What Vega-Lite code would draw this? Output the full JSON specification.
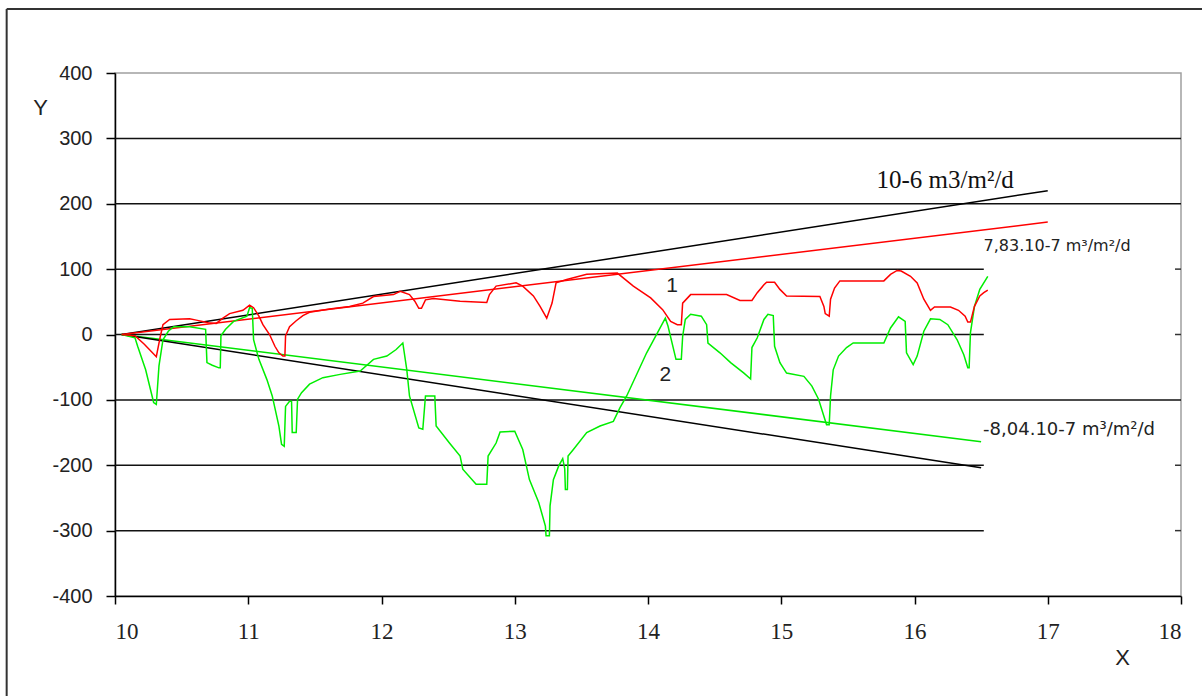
{
  "$schema": "https://vega.github.io/schema/vega-lite/v6.json",
  "width": 1066,
  "height": 523,
  "autosize": {"type": "none"},
  "padding": {"left": 115, "top": 73, "right": 21, "bottom": 100},
  "background": "white",
  "config": {
    "view": {"stroke": "#a0a0a0", "strokeWidth": 1.5},
    "axis": {"grid": false, "domainColor": "#000", "domainWidth": 1.5, "tickColor": "#000", "tickWidth": 1.5, "labelColor": "#222", "titleColor": "#222", "titleFontWeight": "normal"}
  },
  "datasets": {
    "red": [
      {"x":10.05,"y":0},{"x":10.15,"y":-2},{"x":10.22,"y":-15},{"x":10.31,"y":-34},{"x":10.34,"y":-3},{"x":10.36,"y":15},{"x":10.41,"y":23},{"x":10.56,"y":24},{"x":10.61,"y":22},{"x":10.7,"y":18},{"x":10.76,"y":17},{"x":10.81,"y":25},{"x":10.86,"y":32},{"x":10.96,"y":37},{"x":11.01,"y":45},{"x":11.04,"y":41},{"x":11.08,"y":28},{"x":11.11,"y":15},{"x":11.16,"y":0},{"x":11.2,"y":-18},{"x":11.23,"y":-28},{"x":11.26,"y":-33},{"x":11.275,"y":-33},{"x":11.28,"y":-2},{"x":11.31,"y":12},{"x":11.36,"y":21},{"x":11.41,"y":29},{"x":11.46,"y":34},{"x":11.61,"y":39},{"x":11.76,"y":43},{"x":11.86,"y":48},{"x":11.94,"y":58},{"x":12.09,"y":61},{"x":12.14,"y":66},{"x":12.21,"y":61},{"x":12.25,"y":51},{"x":12.28,"y":40},{"x":12.3,"y":40},{"x":12.33,"y":53},{"x":12.39,"y":55},{"x":12.59,"y":51},{"x":12.79,"y":49},{"x":12.81,"y":61},{"x":12.86,"y":74},{"x":13.01,"y":79},{"x":13.06,"y":74},{"x":13.14,"y":59},{"x":13.19,"y":43},{"x":13.24,"y":25},{"x":13.28,"y":48},{"x":13.31,"y":79},{"x":13.39,"y":84},{"x":13.54,"y":92},{"x":13.77,"y":94},{"x":13.89,"y":74},{"x":14.02,"y":56},{"x":14.11,"y":38},{"x":14.17,"y":20},{"x":14.22,"y":15},{"x":14.25,"y":15},{"x":14.26,"y":48},{"x":14.32,"y":61},{"x":14.59,"y":61},{"x":14.69,"y":52},{"x":14.78,"y":52},{"x":14.82,"y":64},{"x":14.87,"y":76},{"x":14.89,"y":80},{"x":14.95,"y":80},{"x":14.99,"y":69},{"x":15.04,"y":59},{"x":15.29,"y":58},{"x":15.32,"y":43},{"x":15.33,"y":32},{"x":15.36,"y":28},{"x":15.37,"y":54},{"x":15.4,"y":71},{"x":15.44,"y":82},{"x":15.77,"y":82},{"x":15.82,"y":92},{"x":15.87,"y":98},{"x":15.9,"y":97},{"x":15.97,"y":89},{"x":16.02,"y":79},{"x":16.07,"y":54},{"x":16.12,"y":37},{"x":16.15,"y":42},{"x":16.27,"y":42},{"x":16.33,"y":37},{"x":16.38,"y":28},{"x":16.4,"y":19},{"x":16.42,"y":19},{"x":16.45,"y":43},{"x":16.49,"y":59},{"x":16.52,"y":64},{"x":16.55,"y":68}
    ],
    "green": [
      {"x":10.05,"y":0},{"x":10.15,"y":-5},{"x":10.17,"y":-18},{"x":10.23,"y":-54},{"x":10.29,"y":-104},{"x":10.31,"y":-107},{"x":10.33,"y":-48},{"x":10.36,"y":-8},{"x":10.4,"y":5},{"x":10.44,"y":12},{"x":10.56,"y":12},{"x":10.68,"y":8},{"x":10.69,"y":-43},{"x":10.73,"y":-47},{"x":10.78,"y":-51},{"x":10.79,"y":-51},{"x":10.795,"y":-2},{"x":10.83,"y":8},{"x":10.89,"y":20},{"x":10.99,"y":28},{"x":11.01,"y":41},{"x":11.03,"y":40},{"x":11.04,"y":-8},{"x":11.08,"y":-38},{"x":11.14,"y":-69},{"x":11.18,"y":-94},{"x":11.23,"y":-140},{"x":11.25,"y":-168},{"x":11.27,"y":-171},{"x":11.28,"y":-110},{"x":11.31,"y":-102},{"x":11.325,"y":-102},{"x":11.33,"y":-150},{"x":11.36,"y":-150},{"x":11.37,"y":-99},{"x":11.4,"y":-89},{"x":11.46,"y":-76},{"x":11.56,"y":-66},{"x":11.69,"y":-61},{"x":11.84,"y":-56},{"x":11.94,"y":-38},{"x":12.04,"y":-33},{"x":12.11,"y":-23},{"x":12.16,"y":-13},{"x":12.19,"y":-54},{"x":12.21,"y":-94},{"x":12.28,"y":-143},{"x":12.31,"y":-145},{"x":12.33,"y":-94},{"x":12.4,"y":-94},{"x":12.41,"y":-140},{"x":12.51,"y":-166},{"x":12.59,"y":-186},{"x":12.61,"y":-206},{"x":12.71,"y":-229},{"x":12.79,"y":-229},{"x":12.8,"y":-186},{"x":12.86,"y":-166},{"x":12.89,"y":-149},{"x":13.0,"y":-148},{"x":13.06,"y":-176},{"x":13.11,"y":-222},{"x":13.18,"y":-257},{"x":13.23,"y":-293},{"x":13.235,"y":-308},{"x":13.26,"y":-308},{"x":13.265,"y":-262},{"x":13.29,"y":-222},{"x":13.33,"y":-201},{"x":13.36,"y":-190},{"x":13.375,"y":-205},{"x":13.38,"y":-237},{"x":13.395,"y":-237},{"x":13.4,"y":-186},{"x":13.44,"y":-176},{"x":13.54,"y":-150},{"x":13.64,"y":-140},{"x":13.74,"y":-133},{"x":13.79,"y":-112},{"x":13.84,"y":-94},{"x":13.99,"y":-28},{"x":14.13,"y":25},{"x":14.15,"y":13},{"x":14.21,"y":-38},{"x":14.25,"y":-38},{"x":14.26,"y":-3},{"x":14.28,"y":23},{"x":14.32,"y":31},{"x":14.4,"y":28},{"x":14.44,"y":15},{"x":14.45,"y":-13},{"x":14.54,"y":-28},{"x":14.62,"y":-43},{"x":14.72,"y":-59},{"x":14.77,"y":-68},{"x":14.78,"y":-20},{"x":14.82,"y":-5},{"x":14.87,"y":23},{"x":14.9,"y":31},{"x":14.94,"y":29},{"x":14.95,"y":-18},{"x":14.99,"y":-43},{"x":15.04,"y":-59},{"x":15.17,"y":-64},{"x":15.23,"y":-79},{"x":15.28,"y":-99},{"x":15.32,"y":-125},{"x":15.34,"y":-138},{"x":15.36,"y":-138},{"x":15.37,"y":-94},{"x":15.39,"y":-54},{"x":15.43,"y":-33},{"x":15.49,"y":-20},{"x":15.54,"y":-13},{"x":15.77,"y":-13},{"x":15.82,"y":10},{"x":15.88,"y":27},{"x":15.93,"y":20},{"x":15.94,"y":-28},{"x":15.99,"y":-46},{"x":16.02,"y":-33},{"x":16.07,"y":5},{"x":16.12,"y":24},{"x":16.19,"y":23},{"x":16.25,"y":15},{"x":16.32,"y":-8},{"x":16.37,"y":-31},{"x":16.4,"y":-51},{"x":16.41,"y":-51},{"x":16.42,"y":3},{"x":16.45,"y":43},{"x":16.49,"y":69},{"x":16.55,"y":89}
    ],
    "trends": [
      {"series":"up","x":10.05,"y":0},{"series":"up","x":17,"y":220},
      {"series":"red","x":10.05,"y":0},{"series":"red","x":17,"y":172},
      {"series":"green","x":10.05,"y":0},{"series":"green","x":16.5,"y":-164},
      {"series":"down","x":10.05,"y":0},{"series":"down","x":16.5,"y":-204}
    ],
    "gridFull": [{"y":300},{"y":200},{"y":-100}],
    "gridPart": [{"y":100},{"y":0},{"y":-200},{"y":-300}]
  },
  "layer": [
    {
      "data": {"name": "gridFull"},
      "mark": {"type": "rule", "color": "#111", "strokeWidth": 1.5},
      "encoding": {
        "y": {"field": "y", "type": "quantitative", "scale": {"domain": [-400, 400], "nice": false, "zero": false},
          "axis": {"values": [-400,-300,-200,-100,0,100,200,300,400], "labelExpr": "datum.value + ''", "labelFont": "Liberation Sans", "labelFontSize": 20, "tickSize": 9, "labelPadding": 14, "title": "Y", "titleFont": "Liberation Sans", "titleFontSize": 22, "titleAngle": 0, "titleX": -75, "titleY": 34, "titleAlign": "center", "titleBaseline": "middle"}},
        "x": {"datum": 10, "type": "quantitative", "scale": {"domain": [10, 18], "nice": false, "zero": false},
          "axis": {"values": [10,11,12,13,14,15,16,17,18], "labelExpr": "datum.value + ''", "labelFont": "Liberation Serif", "labelFontSize": 23, "tickSize": 8, "labelPadding": 16, "title": "X", "titleFont": "Liberation Sans", "titleFontSize": 22, "titleX": 1007, "titleY": 61, "titleAlign": "center", "titleBaseline": "middle"}},
        "x2": {"datum": 18}
      }
    },
    {
      "data": {"name": "gridPart"},
      "mark": {"type": "rule", "color": "#111", "strokeWidth": 1.5},
      "encoding": {
        "y": {"field": "y", "type": "quantitative", "scale": {"domain": [-400, 400], "nice": false, "zero": false}},
        "x": {"datum": 10, "type": "quantitative", "scale": {"domain": [10, 18], "nice": false, "zero": false}},
        "x2": {"datum": 16.52}
      }
    },
    {
      "data": {"name": "gridPart"},
      "mark": {"type": "rule", "color": "#333", "strokeWidth": 1.5},
      "encoding": {
        "y": {"field": "y", "type": "quantitative", "scale": {"domain": [-400, 400], "nice": false, "zero": false}},
        "x": {"datum": 17.955, "type": "quantitative", "scale": {"domain": [10, 18], "nice": false, "zero": false}},
        "x2": {"datum": 18}
      }
    },
    {
      "data": {"name": "trends"},
      "mark": {"type": "line", "strokeWidth": 1.5},
      "encoding": {
        "x": {"field": "x", "type": "quantitative", "scale": {"domain": [10, 18], "nice": false, "zero": false}},
        "y": {"field": "y", "type": "quantitative", "scale": {"domain": [-400, 400], "nice": false, "zero": false}},
        "color": {"field": "series", "type": "nominal", "scale": {"domain": ["up", "red", "green", "down"], "range": ["#000000", "#ff0000", "#00e600", "#000000"]}, "legend": null},
        "detail": {"field": "series"}
      }
    },
    {
      "data": {"name": "green"},
      "mark": {"type": "line", "color": "#00ee00", "strokeWidth": 1.5},
      "encoding": {
        "x": {"field": "x", "type": "quantitative", "scale": {"domain": [10, 18], "nice": false, "zero": false}},
        "y": {"field": "y", "type": "quantitative", "scale": {"domain": [-400, 400], "nice": false, "zero": false}},
        "order": {"value": null}
      }
    },
    {
      "data": {"name": "red"},
      "mark": {"type": "line", "color": "#ff0000", "strokeWidth": 1.5},
      "encoding": {
        "x": {"field": "x", "type": "quantitative", "scale": {"domain": [10, 18], "nice": false, "zero": false}},
        "y": {"field": "y", "type": "quantitative", "scale": {"domain": [-400, 400], "nice": false, "zero": false}},
        "order": {"value": null}
      }
    },
    {
      "data": {"values": [{}]},
      "mark": {"type": "text", "text": "10-6 m3/m²/d", "font": "Liberation Serif", "fontSize": 25, "color": "#111", "align": "center", "baseline": "middle"},
      "encoding": {
        "x": {"datum": 16.23, "type": "quantitative", "scale": {"domain": [10, 18], "nice": false, "zero": false}},
        "y": {"datum": 236, "type": "quantitative", "scale": {"domain": [-400, 400], "nice": false, "zero": false}}
      }
    },
    {
      "data": {"values": [{}]},
      "mark": {"type": "text", "text": "7,83.10-7 m³/m²/d", "font": "DejaVu Sans", "fontSize": 16, "color": "#222", "align": "center", "baseline": "middle"},
      "encoding": {
        "x": {"datum": 17.07, "type": "quantitative", "scale": {"domain": [10, 18], "nice": false, "zero": false}},
        "y": {"datum": 135, "type": "quantitative", "scale": {"domain": [-400, 400], "nice": false, "zero": false}}
      }
    },
    {
      "data": {"values": [{}]},
      "mark": {"type": "text", "text": "-8,04.10-7 m³/m²/d", "font": "DejaVu Sans", "fontSize": 18, "color": "#222", "align": "center", "baseline": "middle"},
      "encoding": {
        "x": {"datum": 17.16, "type": "quantitative", "scale": {"domain": [10, 18], "nice": false, "zero": false}},
        "y": {"datum": -146, "type": "quantitative", "scale": {"domain": [-400, 400], "nice": false, "zero": false}}
      }
    },
    {
      "data": {"values": [{}]},
      "mark": {"type": "text", "text": "1", "font": "Liberation Sans", "fontSize": 21, "color": "#222", "align": "center", "baseline": "middle"},
      "encoding": {
        "x": {"datum": 14.18, "type": "quantitative", "scale": {"domain": [10, 18], "nice": false, "zero": false}},
        "y": {"datum": 74, "type": "quantitative", "scale": {"domain": [-400, 400], "nice": false, "zero": false}}
      }
    },
    {
      "data": {"values": [{}]},
      "mark": {"type": "text", "text": "2", "font": "Liberation Sans", "fontSize": 21, "color": "#222", "align": "center", "baseline": "middle"},
      "encoding": {
        "x": {"datum": 14.13, "type": "quantitative", "scale": {"domain": [10, 18], "nice": false, "zero": false}},
        "y": {"datum": -62, "type": "quantitative", "scale": {"domain": [-400, 400], "nice": false, "zero": false}}
      }
    },
    {
      "data": {"values": [{}]},
      "mark": {"type": "rule", "color": "#333", "strokeWidth": 2, "clip": false},
      "encoding": {
        "x": {"datum": 9.187, "type": "quantitative", "scale": {"domain": [10, 18], "nice": false, "zero": false}},
        "y": {"datum": 498, "type": "quantitative", "scale": {"domain": [-400, 400], "nice": false, "zero": false}},
        "y2": {"datum": -700}
      }
    },
    {
      "data": {"values": [{}]},
      "mark": {"type": "rule", "color": "#333", "strokeWidth": 2, "clip": false},
      "encoding": {
        "x": {"datum": 9.187, "type": "quantitative", "scale": {"domain": [10, 18], "nice": false, "zero": false}},
        "x2": {"datum": 19.5},
        "y": {"datum": 498, "type": "quantitative", "scale": {"domain": [-400, 400], "nice": false, "zero": false}}
      }
    }
  ]
}
